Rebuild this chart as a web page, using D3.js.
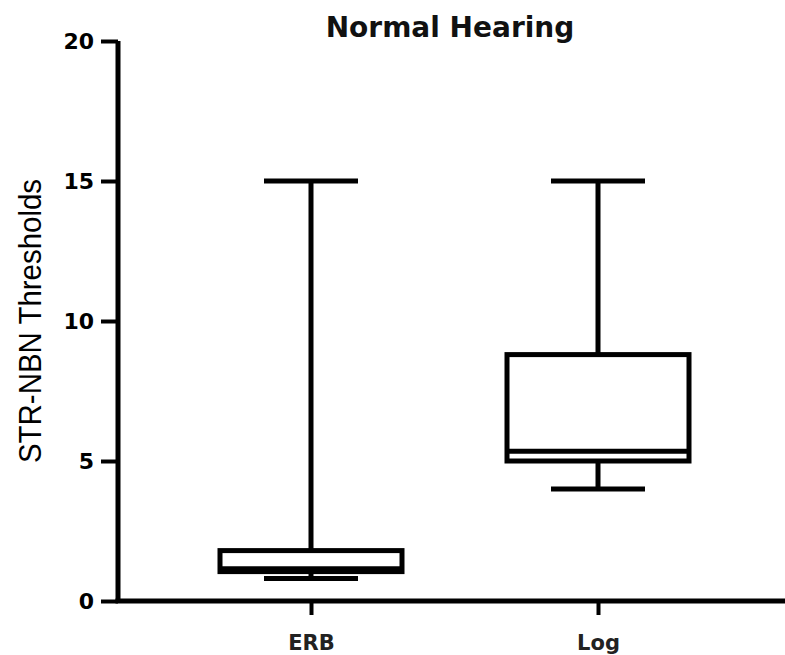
<!DOCTYPE html>
<html>
<head>
<meta charset="utf-8">
<script src="https://cdn.jsdelivr.net/npm/d3@7"></script>
<style>
  html, body { margin: 0; padding: 0; background: #fff; }
  svg { display: block; }
</style>
</head>
<body>
<svg id="chart" width="785" height="655"></svg>
<script>
// Box-and-whisker summary per bandwidth scale (min, Q1, median, Q3, max)
const categories = ["ERB", "Log"];
const mins    = [0.8, 4.0];
const q1s     = [1.05, 5.0];
const medians = [1.15, 5.35];
const q3s     = [1.8, 8.8];
const maxs    = [15, 15];
const yTicks  = [0, 5, 10, 15, 20];

const title = "Normal Hearing";
const yLabel = "STR-NBN Thresholds";

const svg = d3.select("#chart");
const margin = { left: 118, right: 0, top: 41, bottom: 54 };
const W = 785, H = 655;

const x = d3.scalePoint()
  .domain(categories)
  .range([311, 598]);

const y = d3.scaleLinear()
  .domain([0, 20])
  .range([H - margin.bottom, margin.top]);

const stroke = 5;
const boxW = 182;
const capW = 94;

const boxes = categories.map((c, i) => ({
  cat: c, min: mins[i], q1: q1s[i], med: medians[i], q3: q3s[i], max: maxs[i]
}));

const g = svg.append("g");

boxes.forEach(d => {
  const cx = x(d.cat);
  const grp = g.append("g").attr("stroke", "#000").attr("stroke-width", stroke).attr("fill", "none");
  // whiskers
  grp.append("line").attr("x1", cx).attr("x2", cx).attr("y1", y(d.max)).attr("y2", y(d.q3));
  grp.append("line").attr("x1", cx).attr("x2", cx).attr("y1", y(d.q1)).attr("y2", y(d.min));
  // caps
  grp.append("line").attr("x1", cx - capW / 2).attr("x2", cx + capW / 2).attr("y1", y(d.max)).attr("y2", y(d.max));
  grp.append("line").attr("x1", cx - capW / 2).attr("x2", cx + capW / 2).attr("y1", y(d.min)).attr("y2", y(d.min));
  // box
  grp.append("rect")
    .attr("x", cx - boxW / 2).attr("width", boxW)
    .attr("y", y(d.q3)).attr("height", y(d.q1) - y(d.q3))
    .attr("fill", "#fff");
  // median
  grp.append("line").attr("x1", cx - boxW / 2).attr("x2", cx + boxW / 2).attr("y1", y(d.med)).attr("y2", y(d.med));
});

// y axis
const yAxis = d3.axisLeft(y).tickValues(yTicks).tickSize(17).tickPadding(7).tickSizeOuter(0);
const ya = svg.append("g").attr("transform", `translate(${margin.left},0)`).call(yAxis);
ya.select(".domain").attr("stroke", "#000").attr("stroke-width", stroke)
  .attr("d", `M0,${y(20)}V${y(0)}`);
ya.selectAll(".tick line").attr("stroke", "#000").attr("stroke-width", 4);
ya.selectAll(".tick text")
  .attr("fill", "#000")
  .style("font-family", "'DejaVu Sans', sans-serif")
  .style("font-weight", "bold")
  .style("font-size", "22px");

// x axis
const xAxis = d3.axisBottom(x).tickSize(14).tickPadding(20).tickSizeOuter(0);
const xa = svg.append("g").attr("transform", `translate(0,${y(0)})`).call(xAxis);
xa.select(".domain").attr("stroke", "#000").attr("stroke-width", stroke)
  .attr("d", `M${margin.left - 2.5},0H${W}`);
xa.selectAll(".tick line").attr("stroke", "#000").attr("stroke-width", 4);
xa.selectAll(".tick text")
  .attr("fill", "#222")
  .style("font-family", "'DejaVu Sans', sans-serif")
  .style("font-weight", "bold")
  .style("font-size", "21px");

// title
svg.append("text")
  .attr("x", 450).attr("y", 37)
  .attr("text-anchor", "middle")
  .style("font-family", "'DejaVu Sans', sans-serif")
  .style("font-weight", "bold")
  .style("font-size", "28px")
  .attr("fill", "#111")
  .text(title);

// y label
svg.append("text")
  .attr("transform", `translate(41,${y(10)}) rotate(-90) scale(0.92,1)`)
  .attr("text-anchor", "middle")
  .style("font-family", "'Liberation Sans', Arial, sans-serif")
  .style("font-size", "32px")
  .attr("fill", "#000")
  .text(yLabel);
</script>
</body>
</html>
